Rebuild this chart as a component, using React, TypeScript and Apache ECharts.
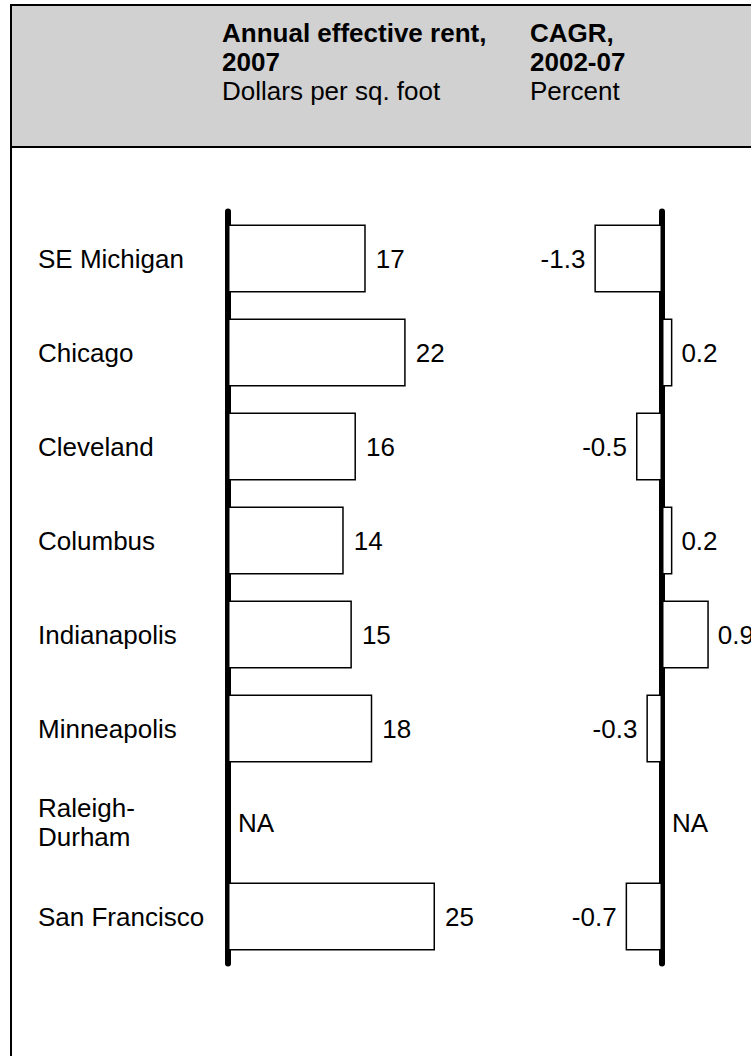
import React, { useEffect, useRef } from "react";
import * as echarts from "echarts";

const categories = [
  "SE Michigan",
  "Chicago",
  "Cleveland",
  "Columbus",
  "Indianapolis",
  "Minneapolis",
  "Raleigh-Durham",
  "San Francisco",
];
// Annual effective rent 2007, $/sq ft (bar lengths; labels rounded)
const rent: (number | null)[] = [16.9, 21.8, 15.7, 14.2, 15.2, 17.7, null, 25.4];
// CAGR 2002-07, percent
const cagr: (number | null)[] = [-1.3, 0.2, -0.5, 0.2, 0.9, -0.3, null, -0.7];

const header1 = ["Annual effective rent,", "2007"];
const header1Sub = "Dollars per sq. foot";
const header2 = ["CAGR,", "2002-07"];
const header2Sub = "Percent";

const FONT = "'Liberation Sans', Arial, Helvetica, sans-serif";
const FS = 26;

export default function App() {
  const ref = useRef<HTMLDivElement>(null);
  useEffect(() => {
    if (!ref.current) return;
    const chart = echarts.init(ref.current, undefined, { renderer: "svg" });

    const naRent = rent
      .map((v, i) => (v === null ? [0, categories[i]] : null))
      .filter((d) => d !== null);
    const naCagr = cagr
      .map((v, i) => (v === null ? [0, categories[i]] : null))
      .filter((d) => d !== null);

    const headerText = (text: string, x: number, y: number, bold: boolean) => ({
      type: "text",
      z: 1,
      style: {
        text,
        x,
        y,
        fill: "#000",
        fontFamily: FONT,
        fontSize: FS,
        fontWeight: bold ? "bold" : "normal",
        verticalAlign: "middle",
        align: "left",
      },
    });

    const labelBase = {
      color: "#000",
      fontSize: FS,
      fontFamily: FONT,
    };

    const option: any = {
      animation: false,
      backgroundColor: "#fff",
      textStyle: { fontFamily: FONT },
      graphic: [
        {
          type: "rect",
          z: 0,
          shape: { x: 11, y: 5, width: 1000, height: 1300 },
          style: { fill: "#fff", stroke: "#000", lineWidth: 2 },
        },
        {
          type: "rect",
          z: 0,
          shape: { x: 11, y: 5, width: 1000, height: 142 },
          style: { fill: "#d1d1d1", stroke: "#000", lineWidth: 2 },
        },
        headerText(header1[0], 222, 33, true),
        headerText(header1[1], 222, 62, true),
        headerText(header1Sub, 222, 91, false),
        headerText(header2[0], 530, 33, true),
        headerText(header2[1], 530, 62, true),
        headerText(header2Sub, 530, 91, false),
      ],
      grid: [
        { left: 228, top: 211.5, width: 244.5, height: 752, containLabel: false },
        { left: 584, top: 211.5, width: 156, height: 752, containLabel: false },
      ],
      xAxis: [
        { type: "value", gridIndex: 0, min: 0, max: 30, show: false },
        { type: "value", gridIndex: 1, min: -1.5, max: 1.5, show: false },
      ],
      yAxis: [
        {
          type: "category",
          gridIndex: 0,
          data: categories,
          inverse: true,
          axisLine: {
            show: true,
            lineStyle: { color: "#000", width: 6, cap: "round" },
          },
          axisTick: { show: false },
          splitLine: { show: false },
          axisLabel: {
            show: true,
            align: "left",
            margin: 190,
            color: "#000",
            fontSize: FS,
            fontFamily: FONT,
            lineHeight: 29,
            formatter: (v: string) => v.replace("-", "-\n"),
          },
        },
        {
          type: "category",
          gridIndex: 1,
          data: categories,
          inverse: true,
          axisLine: {
            show: true,
            onZero: true,
            lineStyle: { color: "#000", width: 6, cap: "round" },
          },
          axisTick: { show: false },
          splitLine: { show: false },
          axisLabel: { show: false },
        },
      ],
      series: [
        {
          type: "bar",
          xAxisIndex: 0,
          yAxisIndex: 0,
          data: rent,
          barWidth: 68,
          itemStyle: { color: "#fff", borderColor: "#000", borderWidth: 1.5 },
          label: {
            show: true,
            position: "right",
            distance: 10,
            ...labelBase,
            formatter: (p: any) => String(Math.round(p.value)),
          },
        },
        {
          type: "scatter",
          xAxisIndex: 0,
          yAxisIndex: 0,
          data: naRent,
          symbolSize: 0,
          itemStyle: { opacity: 1 },
          label: {
            show: true,
            position: "right",
            distance: 10,
            ...labelBase,
            formatter: () => "NA",
          },
        },
        {
          type: "bar",
          xAxisIndex: 1,
          yAxisIndex: 1,
          data: cagr.map((v) =>
            v === null
              ? null
              : { value: v, label: { position: v < 0 ? "left" : "right" } }
          ),
          barWidth: 68,
          itemStyle: { color: "#fff", borderColor: "#000", borderWidth: 1.5 },
          label: {
            show: true,
            distance: 9,
            ...labelBase,
            formatter: (p: any) => Number(p.value).toFixed(1),
          },
        },
        {
          type: "scatter",
          xAxisIndex: 1,
          yAxisIndex: 1,
          data: naCagr,
          symbolSize: 0,
          itemStyle: { opacity: 1 },
          label: {
            show: true,
            position: "right",
            distance: 10,
            ...labelBase,
            formatter: () => "NA",
          },
        },
      ],
    };
    chart.setOption(option);
    return () => chart.dispose();
  }, []);
  return (
    <div
      ref={ref}
      style={{ position: "fixed", left: 0, top: 0, width: 751, height: 1056 }}
    />
  );
}
